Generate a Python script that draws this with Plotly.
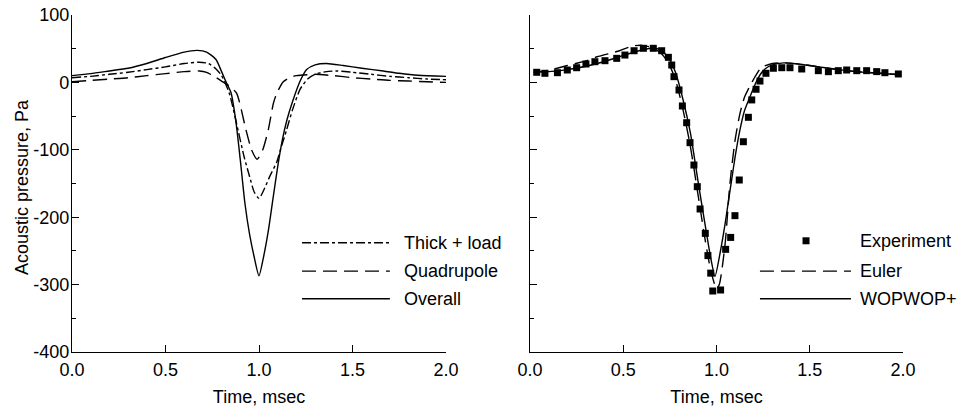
import plotly.graph_objects as go
from plotly.subplots import make_subplots

# ---------------- data ----------------
# Left panel
overall_t = [0.0, 0.1, 0.2, 0.3, 0.4, 0.5, 0.6, 0.67, 0.72, 0.77, 0.8, 0.82, 0.85, 0.875,
             0.9, 0.925, 0.95, 0.975, 1.0, 1.025, 1.05, 1.075, 1.1, 1.125, 1.15, 1.18,
             1.22, 1.255, 1.3, 1.36, 1.45, 1.55, 1.665, 1.75, 1.85, 2.0]
overall_p = [10, 13, 17, 21, 28, 37, 45, 47.5, 45, 34, 16, 3, -15, -55,
             -115, -180, -226, -260, -287, -258, -220, -172, -125, -85, -55, -28,
             2, 19, 26, 28, 25, 21, 17, 13.5, 10.5, 9]

thick_t = [0.0, 0.1, 0.2, 0.3, 0.4, 0.5, 0.6, 0.68, 0.73, 0.77, 0.8, 0.84, 0.88, 0.92,
           0.95, 0.975, 1.0, 1.025, 1.06, 1.095, 1.12, 1.148, 1.18, 1.22, 1.26, 1.3,
           1.36, 1.42, 1.5, 1.6, 1.7, 1.8, 1.9, 2.0]
thick_p = [7, 9, 12, 15, 19, 23, 28, 30, 28, 20, 10, -15, -61, -110,
           -140, -163, -172, -160, -138, -118, -95, -70, -40, -10, 5, 12,
           16, 17, 15, 12, 9, 7, 5, 4]

quad_t = [0.0, 0.1, 0.2, 0.3, 0.4, 0.5, 0.6, 0.68, 0.72, 0.76, 0.8, 0.84, 0.88, 0.93,
          0.96, 0.99, 1.02, 1.05, 1.077, 1.095, 1.13, 1.17, 1.2, 1.3, 1.4, 1.5, 1.6,
          1.7, 1.8, 1.9, 2.0]
quad_p = [1, 3, 5, 7, 10, 13, 16, 17, 15, 9, 2, -5, -16, -70,
          -100, -114, -100, -70, -31, -16, 1, 8, 10, 12, 10, 7, 5,
          3, 2, 1, 0]

# Right panel
exp_t = [0.036, 0.080, 0.147, 0.200, 0.250, 0.300, 0.348, 0.402, 0.465, 0.509, 0.558,
         0.608, 0.661, 0.706, 0.742, 0.760, 0.772, 0.799, 0.817, 0.840, 0.858, 0.879,
         0.897, 0.912, 0.940, 0.954, 0.969, 0.980, 1.022, 1.049, 1.076, 1.099, 1.122,
         1.144, 1.171, 1.189, 1.212, 1.233, 1.265, 1.305, 1.350, 1.394, 1.457, 1.546,
         1.600, 1.653, 1.698, 1.752, 1.805, 1.859, 1.903, 1.975]
exp_p = [15, 13.5, 14.4, 18.4, 21.8, 27.3, 30.7, 32.2, 35.7, 40.6, 47,
         50.6, 50.6, 47, 37.2, 25.8, 8.5, -11.3, -35, -59.8, -89.4, -122.6,
         -154.7, -187.8, -224, -257, -283, -309.5, -308, -247.7, -230, -197.7, -144.8,
         -88, -51.8, -26, -10.2, 2, 13.5, 21, 21.8, 21.8, 19.9, 17.4,
         15.9, 17.4, 18.4, 17.4, 17.4, 16, 14.4, 12.5]

euler_t = [0.02, 0.1, 0.2, 0.3, 0.36, 0.48, 0.55, 0.6, 0.65, 0.7, 0.74, 0.78, 0.82, 0.86,
           0.9, 0.94, 0.97, 1.0, 1.015, 1.046, 1.072, 1.1, 1.126, 1.15, 1.18, 1.21, 1.24,
           1.3, 1.36, 1.45, 1.55, 1.65, 1.75, 1.85, 1.95, 1.98]
euler_p = [15, 18, 25, 32, 38, 47, 54, 55, 52, 44, 30, 4, -40, -95,
           -165, -235, -280, -306, -300, -240, -150, -85, -46, -22, -5, 10, 22,
           28, 29, 27, 23, 19, 16, 14, 12, 11]

wop_t = [0.02, 0.1, 0.2, 0.3, 0.4, 0.5, 0.6, 0.66, 0.7, 0.74, 0.78, 0.82, 0.86, 0.9,
         0.94, 0.97, 0.992, 1.02, 1.046, 1.063, 1.081, 1.1, 1.126, 1.15, 1.18, 1.22,
         1.26, 1.3, 1.36, 1.45, 1.55, 1.65, 1.75, 1.85, 1.95, 1.98]
wop_p = [15, 16, 19, 24, 31, 40, 48, 51, 48, 38, 15, -25, -75, -145,
         -213, -262, -288, -252, -210, -178, -145, -110, -70, -42, -21, 5,
         20, 26, 29, 27, 23, 19, 16, 14, 12, 11]

left_names = ["Thick + load", "Quadrupole", "Overall"]
right_names = ["Experiment", "Euler", "WOPWOP+"]
x_ticks = [0.0, 0.5, 1.0, 1.5, 2.0]
x_ticklabels = ["0.0", "0.5", "1.0", "1.5", "2.0"]
y_ticks = [100, 0, -100, -200, -300, -400]
y_ticklabels = ["100", "0", "-100", "-200", "-300", "-400"]
x_title = "Time, msec"
y_title = "Acoustic pressure, Pa"

# ---------------- styles ----------------
FONT = "Liberation Sans, Arial, Helvetica, sans-serif"
FS = 18
DASHDOT = "9px,3px,3px,3px"
DASH = "14px,7px"
LW = 1.4

fig = make_subplots(rows=1, cols=2, horizontal_spacing=0.1)

fig.add_trace(go.Scatter(x=thick_t, y=thick_p, mode="lines", name=left_names[0],
                         line=dict(color="black", width=LW, dash=DASHDOT, shape="spline", smoothing=0.6)),
              row=1, col=1)
fig.add_trace(go.Scatter(x=quad_t, y=quad_p, mode="lines", name=left_names[1],
                         line=dict(color="black", width=LW, dash=DASH, shape="spline", smoothing=0.6)),
              row=1, col=1)
fig.add_trace(go.Scatter(x=overall_t, y=overall_p, mode="lines", name=left_names[2],
                         line=dict(color="black", width=LW, shape="spline", smoothing=0.6)),
              row=1, col=1)

fig.add_trace(go.Scatter(x=euler_t, y=euler_p, mode="lines", name=right_names[1],
                         line=dict(color="black", width=LW, dash=DASH, shape="spline", smoothing=0.6)),
              row=1, col=2)
fig.add_trace(go.Scatter(x=wop_t, y=wop_p, mode="lines", name=right_names[2],
                         line=dict(color="black", width=LW, shape="spline", smoothing=0.6)),
              row=1, col=2)
fig.add_trace(go.Scatter(x=exp_t, y=exp_p, mode="markers", name=right_names[0],
                         marker=dict(symbol="square", size=7, color="black", line=dict(width=0))),
              row=1, col=2)

# ---------------- layout ----------------
W, H = 962, 407
ML, MR, MT, MB = 72, 59, 15, 55
PW = W - ML - MR
PH = H - MT - MB
left_dom = [0, (446 - ML) / PW]
right_dom = [(530 - ML) / PW, 1]

axis_common = dict(range=[0, 2], showline=True, linecolor="black", linewidth=1.3,
                   ticks="inside", ticklen=7, tickwidth=1.2, tickcolor="black",
                   tickvals=x_ticks, ticktext=x_ticklabels, showgrid=False, zeroline=False,
                   tickfont=dict(family=FONT, size=FS, color="black"),
                   ticklabelstandoff=1,
                   title=dict(text=x_title, font=dict(family=FONT, size=FS, color="black"),
                              standoff=12))
fig.update_xaxes(**axis_common)
fig.update_xaxes(domain=left_dom, row=1, col=1)
fig.update_xaxes(domain=right_dom, row=1, col=2)

yaxis_common = dict(range=[-400, 100], showline=True, linecolor="black", linewidth=1.3,
                    ticks="inside", ticklen=7, tickwidth=1.2, tickcolor="black",
                    tickvals=y_ticks, ticktext=y_ticklabels, showgrid=False, zeroline=False,
                    minor=dict(dtick=50, tick0=0, ticks="inside", ticklen=4, tickwidth=1.1,
                               tickcolor="black", showgrid=False),
                    tickfont=dict(family=FONT, size=FS, color="black"), domain=[0, 1])
fig.update_yaxes(**yaxis_common)
fig.update_yaxes(ticklabelstandoff=-2, row=1, col=1)
fig.update_yaxes(showticklabels=False, row=1, col=2)

# y-axis title placed beside the left panel
fig.add_annotation(xref="paper", yref="paper", x=(22 - ML) / PW, y=1 - (187 - MT) / PH,
                   text=y_title, textangle=-90, showarrow=False,
                   xanchor="center", yanchor="middle",
                   font=dict(family=FONT, size=FS, color="black"))

# ---------------- hand-drawn legends ----------------
legend_rows = [-238, -280, -321]
left_styles = [DASHDOT, DASH, "solid"]
for name, yv, dsh in zip(left_names, legend_rows, left_styles):
    fig.add_shape(type="line", xref="x", yref="y", x0=1.23, x1=1.70, y0=yv, y1=yv,
                  line=dict(color="black", width=LW, dash=dsh))
    fig.add_annotation(xref="x", yref="y", x=1.765, y=yv, text=name, showarrow=False,
                       xanchor="left", yanchor="middle",
                       font=dict(family=FONT, size=FS, color="black"))

right_rows = [-235, -280, -321]
fig.add_shape(type="rect", xref="x2", yref="y2", xsizemode="pixel", ysizemode="pixel",
              xanchor=1.48, yanchor=right_rows[0], x0=-3.5, x1=3.5, y0=-3.5, y1=3.5,
              fillcolor="black", line=dict(width=0))
for name, yv, dsh in zip(right_names[1:], right_rows[1:], [DASH, "solid"]):
    fig.add_shape(type="line", xref="x2", yref="y2", x0=1.233, x1=1.721, y0=yv, y1=yv,
                  line=dict(color="black", width=LW, dash=dsh))
for name, yv in zip(right_names, right_rows):
    fig.add_annotation(xref="x2", yref="y2", x=1.759, y=yv, text=name, showarrow=False,
                       xanchor="left", yanchor="middle",
                       font=dict(family=FONT, size=FS, color="black"))

fig.update_layout(width=W, height=H, margin=dict(l=ML, r=MR, t=MT, b=MB, autoexpand=False),
                  paper_bgcolor="white", plot_bgcolor="white", showlegend=False,
                  font=dict(family=FONT, size=FS, color="black"))

fig.write_html("out.html", config={"displayModeBar": False},
               post_script="document.body.style.margin='0px';")
